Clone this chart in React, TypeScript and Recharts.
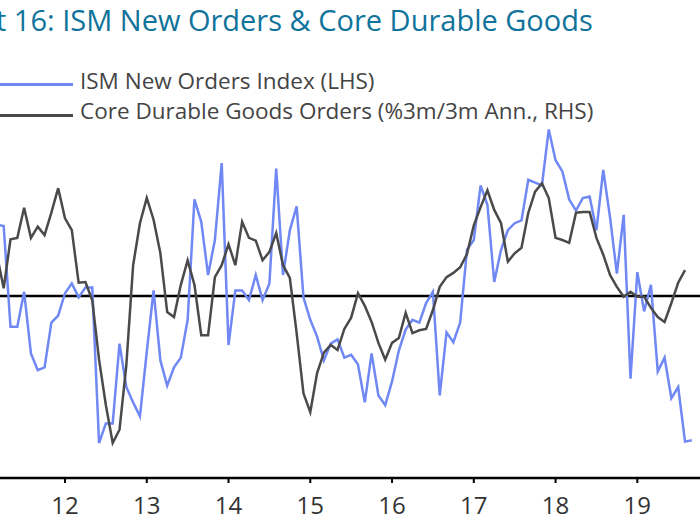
import React from "react";
import {
	ComposedChart,
	Line,
	XAxis,
	YAxis,
	ReferenceLine,
} from "recharts";

// monthly, Mar 2011 .. Sep 2019 (index 10 = Jan 2012)
const ismNewOrders = [
	62.1, 62.0, 54.8, 54.8, 57.3, 52.9, 51.7, 51.9, 55.1, 55.6,
	57.2, 57.9, 56.9, 57.6, 57.6, 46.5, 47.9, 47.9, 53.6, 50.5, 49.4, 48.4,
	53.0, 57.4, 52.4, 50.6, 51.9, 52.6, 55.3, 63.9, 62.3, 58.5, 61.0, 66.5,
	53.5, 57.4, 57.4, 56.7, 58.5, 56.7, 57.9, 66.1, 58.5, 61.7, 63.4, 56.9,
	55.3, 54.1, 52.4, 53.6, 53.9, 52.6, 52.8, 52.1, 49.4, 52.9, 49.9, 49.2,
	50.9, 53.1, 54.6, 55.3, 55.1, 56.5, 57.3, 49.9, 54.4, 53.7, 55.1, 60.3,
	61.0, 64.9, 63.5, 58.0, 60.3, 61.7, 62.2, 62.4, 65.3, 65.1, 64.9, 68.9,
	66.7, 65.9, 63.9, 63.1, 64.0, 64.1, 61.7, 66.0, 62.6, 58.6, 62.8, 51.1,
	58.7, 55.9, 57.8, 51.6, 52.6, 49.7, 50.5, 46.6, 46.7,
];

const coreDurables = [
	5.9, 1.1, 8.1, 8.3, 12.6, 8.3, 9.9, 8.7, 11.9, 15.4,
	11.1, 9.4, 1.9, 2.0, -0.6, -9.1, -15.6, -21.0, -19.1, -9.9, 4.4, 10.4,
	14.0, 10.9, 6.1, -2.3, -3.0, 1.6, 5.1, 1.6, -5.6, -5.6, 2.7, 4.4,
	7.4, 4.4, 10.6, 8.3, 7.9, 5.1, 6.3, 9.0, 4.4, 2.6, -5.3, -13.9,
	-16.6, -11.0, -8.1, -7.0, -7.7, -4.7, -3.1, 0.4, -1.4, -3.7, -6.7, -9.1,
	-6.7, -6.0, -2.4, -5.3, -4.9, -4.7, -2.0, 1.3, 2.7, 3.3, 4.1, 6.0,
	10.1, 12.7, 15.1, 12.3, 10.4, 4.9, 6.1, 6.9, 11.9, 14.9, 16.1, 14.0,
	8.3, 8.0, 7.6, 11.9, 12.0, 12.0, 8.3, 5.9, 3.0, 1.3, -0.1, 0.6,
	-0.1, -0.1, -1.7, -3.0, -3.7, -1.0, 1.9, 3.7,
];

const yearTicks = [0, 12, 24, 36, 48, 60, 72, 84];
const yearLabels = ["12", "13", "14", "15", "16", "17", "18", "19"];

const BLUE = "#7088f4";
const DARK = "#4a4a4a";
const TEAL = "#10739b";

const data = ismNewOrders.map((v, i) => ({
	m: i - 10,
	ism: v,
	cdg: i < coreDurables.length ? coreDurables[i] : null,
}));

const legendItems = [
	{ label: "ISM New Orders Index (LHS)", color: BLUE },
	{ label: "Core Durable Goods Orders (%3m/3m Ann., RHS)", color: DARK },
];

function ChartLegend() {
	return (
		<>
			{legendItems.map((it, i) => (
				<React.Fragment key={it.label}>
					<div
						style={{
							position: "absolute",
							left: 0,
							top: 82.5 + i * 31,
							width: 73,
							height: 3,
							background: it.color,
						}}
					/>
					<span
						style={{
							position: "absolute",
							left: 80,
							top: 66 + i * 30,
							fontFamily: "Open Sans",
							fontSize: 22.5,
							lineHeight: "30px",
							color: "#444",
							whiteSpace: "nowrap",
						}}
					>
						{it.label}
					</span>
				</React.Fragment>
			))}
		</>
	);
}

export default function App() {
	return (
		<div style={{ position: "absolute", left: 0, top: 0, width: 700, height: 525, background: "#fff", overflow: "hidden" }}>
			<div
				style={{
					position: "absolute",
					left: -4,
					top: 0,
					fontFamily: "Open Sans",
					fontSize: 29,
					lineHeight: "40px",
					color: TEAL,
					whiteSpace: "nowrap",
				}}
			>
				t 16: ISM New Orders &amp; Core Durable Goods
			</div>
			<ChartLegend />
			<div style={{ position: "absolute", left: 0, top: 0 }}>
				<ComposedChart
					width={700}
					height={525}
					data={data}
					margin={{ top: 114, right: 0, bottom: 7, left: 0 }}
				>
					<XAxis
						dataKey="m"
						type="number"
						domain={[-9.54, 93.2]}
						allowDataOverflow
						ticks={yearTicks}
						tickFormatter={(m) => yearLabels[yearTicks.indexOf(m)]}
						height={40}
						axisLine={{ stroke: "#000", strokeWidth: 2.5 }}
						tickLine={{ stroke: "#000", strokeWidth: 2 }}
						tickSize={5}
						tick={{ fontSize: 24, fill: "#333", fontFamily: "Open Sans" }}
						tickMargin={14}
					/>
					<YAxis yAxisId="lhs" hide domain={[44, 70]} />
					<YAxis yAxisId="rhs" hide orientation="right" domain={[-26, 26]} />
					<ReferenceLine yAxisId="rhs" y={0} stroke="#000" strokeWidth={2.5} />
					<Line
						yAxisId="lhs"
						dataKey="ism"
						stroke={BLUE}
						strokeWidth={2.5}
						dot={false}
						isAnimationActive={false}
					/>
					<Line
						yAxisId="rhs"
						dataKey="cdg"
						stroke={DARK}
						strokeWidth={2.5}
						dot={false}
						isAnimationActive={false}
					/>
				</ComposedChart>
			</div>
		</div>
	);
}
